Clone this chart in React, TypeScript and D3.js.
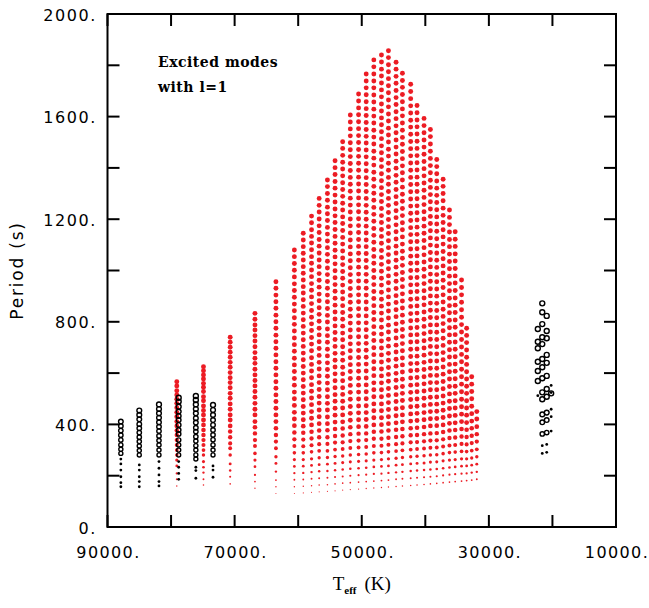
import React from "react";
import * as d3 from "d3";

const W = 649;
const H = 608;

const X_TICKS_MAJOR = [90000, 70000, 50000, 30000, 10000];
const X_TICKS_MINOR = [90000, 80000, 70000, 60000, 50000, 40000, 30000, 20000, 10000];
const Y_TICKS_MAJOR = [0, 400, 800, 1200, 1600, 2000];
const Y_TICKS_MINOR = [0, 200, 400, 600, 800, 1000, 1200, 1400, 1600, 1800, 2000];

// red (excited) sequences, sparse hot models
const redSparseTeff = [79100, 74900, 70700, 66800, 63500];
const redSparsePeriods = [
  [566, 550, 531, 515, 498, 482, 465, 447, 430, 411, 394, 376, 359, 339, 320, 300, 281, 261, 238, 209, 186, 160],
  [625, 609, 593, 577, 560, 545, 528, 508, 492, 472, 454, 437, 417, 398, 378, 359, 339, 320, 300, 281, 255, 233, 212, 186, 164],
  [740, 720, 701, 681, 662, 642, 623, 602, 582, 563, 543, 521, 502, 480, 459, 437, 417, 394, 372, 350, 326, 307, 281, 246, 220, 196, 168],
  [833, 810, 788, 768, 746, 725, 703, 680, 658, 638, 615, 593, 571, 550, 528, 506, 482, 459, 437, 411, 389, 365, 339, 316, 287, 261, 235, 203, 177, 151],
  [956, 931, 904, 878, 853, 826, 800, 775, 748, 722, 697, 671, 644, 619, 593, 566, 541, 515, 489, 463, 437, 411, 385, 359, 333, 307, 274, 248, 216, 183, 157, 131],
];

// red (excited) sequences, dense model grid
const denseTeff = [60600, 59200, 57900, 56700, 55400, 54200, 53000, 51800, 50500, 49300, 48100, 46900, 45800, 44600, 43600, 42300, 41300, 40200, 39200, 38200, 37200, 36200, 35300, 34300, 33500, 32700, 31900];
const densePeriods = [
  [131, 157, 184, 210, 236, 263, 289, 316, 342, 368, 395, 421, 447, 474, 500, 526, 553, 579, 606, 632, 658, 685, 711, 737, 764, 790, 816, 843, 869, 896, 922, 948, 975, 1001, 1027, 1054, 1080],
  [133, 159, 185, 211, 237, 263, 289, 315, 341, 367, 393, 418, 444, 470, 496, 522, 548, 574, 600, 626, 652, 678, 704, 730, 756, 782, 808, 834, 860, 886, 912, 937, 963, 989, 1015, 1041, 1067, 1093, 1119, 1145],
  [135, 161, 188, 214, 240, 266, 293, 319, 345, 371, 398, 424, 450, 477, 503, 529, 555, 582, 608, 634, 660, 687, 713, 739, 766, 792, 818, 844, 871, 897, 923, 949, 976, 1002, 1028, 1054, 1081, 1107, 1133, 1159, 1186, 1212],
  [137, 164, 190, 217, 243, 270, 297, 323, 350, 376, 403, 430, 456, 483, 509, 536, 563, 589, 616, 642, 669, 696, 722, 749, 775, 802, 829, 855, 882, 908, 935, 962, 988, 1015, 1041, 1068, 1095, 1121, 1148, 1174, 1201, 1228, 1254, 1281],
  [139, 165, 192, 218, 245, 271, 297, 324, 350, 377, 403, 429, 456, 482, 508, 535, 561, 588, 614, 640, 667, 693, 720, 746, 772, 799, 825, 852, 878, 904, 931, 957, 984, 1010, 1036, 1063, 1089, 1115, 1142, 1168, 1195, 1221, 1247, 1274, 1300, 1327, 1353],
  [141, 168, 195, 221, 248, 275, 302, 329, 355, 382, 409, 436, 463, 490, 516, 543, 570, 597, 624, 650, 677, 704, 731, 758, 784, 811, 838, 865, 892, 919, 945, 972, 999, 1026, 1053, 1079, 1106, 1133, 1160, 1187, 1213, 1240, 1267, 1294, 1321, 1347, 1374, 1401, 1428],
  [144, 171, 197, 224, 251, 277, 304, 330, 357, 384, 410, 437, 464, 490, 517, 543, 570, 597, 623, 650, 677, 703, 730, 756, 783, 810, 836, 863, 890, 916, 943, 970, 996, 1023, 1049, 1076, 1103, 1129, 1156, 1183, 1209, 1236, 1262, 1289, 1316, 1342, 1369, 1396, 1422, 1449, 1476, 1502],
  [146, 173, 200, 227, 254, 281, 308, 335, 362, 389, 416, 443, 470, 498, 525, 552, 579, 606, 633, 660, 687, 714, 741, 768, 795, 822, 849, 876, 903, 930, 957, 984, 1011, 1038, 1065, 1092, 1119, 1146, 1174, 1201, 1228, 1255, 1282, 1309, 1336, 1363, 1390, 1417, 1444, 1471, 1498, 1525, 1552, 1579, 1606],
  [148, 175, 202, 229, 256, 283, 310, 337, 364, 391, 418, 445, 472, 499, 526, 553, 580, 607, 634, 661, 688, 715, 742, 769, 796, 824, 851, 878, 905, 932, 959, 986, 1013, 1040, 1067, 1094, 1121, 1148, 1175, 1202, 1229, 1256, 1283, 1310, 1337, 1364, 1391, 1418, 1445, 1472, 1499, 1526, 1553, 1580, 1607, 1634, 1661, 1688],
  [150, 177, 204, 231, 258, 285, 312, 339, 365, 392, 419, 446, 473, 500, 527, 554, 581, 608, 635, 662, 689, 716, 742, 769, 796, 823, 850, 877, 904, 931, 958, 985, 1012, 1039, 1066, 1093, 1119, 1146, 1173, 1200, 1227, 1254, 1281, 1308, 1335, 1362, 1389, 1416, 1443, 1470, 1497, 1523, 1550, 1577, 1604, 1631, 1658, 1685, 1712, 1739, 1766],
  [152, 179, 207, 234, 261, 289, 316, 344, 371, 398, 426, 453, 480, 508, 535, 562, 590, 617, 644, 672, 699, 727, 754, 781, 809, 836, 863, 891, 918, 945, 973, 1000, 1028, 1055, 1082, 1110, 1137, 1164, 1192, 1219, 1246, 1274, 1301, 1328, 1356, 1383, 1411, 1438, 1465, 1493, 1520, 1547, 1575, 1602, 1629, 1657, 1684, 1712, 1739, 1766, 1794, 1821],
  [154, 181, 208, 236, 263, 290, 317, 344, 372, 399, 426, 453, 480, 508, 535, 562, 589, 616, 643, 671, 698, 725, 752, 779, 807, 834, 861, 888, 915, 943, 970, 997, 1024, 1051, 1078, 1106, 1133, 1160, 1187, 1214, 1242, 1269, 1296, 1323, 1350, 1377, 1405, 1432, 1459, 1486, 1514, 1541, 1568, 1595, 1622, 1649, 1677, 1704, 1731, 1758, 1785, 1813, 1840],
  [156, 183, 211, 238, 266, 293, 321, 348, 376, 403, 430, 458, 485, 513, 540, 568, 595, 622, 650, 677, 705, 732, 760, 787, 815, 842, 869, 897, 924, 952, 979, 1007, 1034, 1062, 1089, 1116, 1144, 1171, 1199, 1226, 1254, 1281, 1308, 1336, 1363, 1391, 1418, 1446, 1473, 1501, 1528, 1555, 1583, 1610, 1638, 1665, 1693, 1720, 1748, 1775, 1802, 1830, 1857],
  [158, 186, 213, 241, 268, 296, 323, 351, 379, 406, 434, 461, 489, 516, 544, 572, 599, 627, 654, 682, 709, 737, 765, 792, 820, 847, 875, 902, 930, 958, 985, 1013, 1040, 1068, 1095, 1123, 1151, 1178, 1206, 1233, 1261, 1288, 1316, 1344, 1371, 1399, 1426, 1454, 1481, 1509, 1537, 1564, 1592, 1619, 1647, 1674, 1702, 1730, 1757, 1785, 1812],
  [160, 188, 215, 243, 271, 299, 326, 354, 382, 410, 437, 465, 493, 521, 548, 576, 604, 632, 659, 687, 715, 743, 770, 798, 826, 854, 881, 909, 937, 965, 992, 1020, 1048, 1075, 1103, 1131, 1159, 1186, 1214, 1242, 1270, 1297, 1325, 1353, 1381, 1408, 1436, 1464, 1492, 1519, 1547, 1575, 1603, 1630, 1658, 1686, 1714, 1741, 1769],
  [162, 190, 218, 246, 274, 302, 330, 358, 385, 413, 441, 469, 497, 525, 553, 581, 609, 637, 665, 693, 721, 749, 776, 804, 832, 860, 888, 916, 944, 972, 1000, 1028, 1056, 1084, 1112, 1140, 1167, 1195, 1223, 1251, 1279, 1307, 1335, 1363, 1391, 1419, 1447, 1475, 1503, 1531, 1559, 1586, 1614, 1642, 1670, 1698, 1726],
  [164, 192, 220, 248, 276, 304, 331, 359, 387, 415, 443, 471, 499, 527, 555, 583, 611, 638, 666, 694, 722, 750, 778, 806, 834, 862, 890, 918, 945, 973, 1001, 1029, 1057, 1085, 1113, 1141, 1169, 1197, 1225, 1252, 1280, 1308, 1336, 1364, 1392, 1420, 1448, 1476, 1504, 1532, 1560, 1587, 1615, 1643],
  [166, 194, 222, 250, 278, 306, 334, 362, 390, 418, 446, 474, 502, 530, 558, 586, 614, 642, 670, 698, 726, 754, 782, 810, 838, 866, 893, 921, 949, 977, 1005, 1033, 1061, 1089, 1117, 1145, 1173, 1201, 1229, 1257, 1285, 1313, 1341, 1369, 1397, 1425, 1453, 1481, 1509, 1537, 1565, 1593],
  [168, 196, 224, 253, 281, 309, 337, 365, 394, 422, 450, 478, 506, 535, 563, 591, 619, 647, 676, 704, 732, 760, 788, 817, 845, 873, 901, 929, 958, 986, 1014, 1042, 1070, 1099, 1127, 1155, 1183, 1211, 1240, 1268, 1296, 1324, 1352, 1381, 1409, 1437, 1465, 1493, 1522, 1550],
  [170, 198, 226, 254, 282, 310, 338, 366, 395, 423, 451, 479, 507, 535, 563, 591, 619, 647, 675, 703, 731, 759, 788, 816, 844, 872, 900, 928, 956, 984, 1012, 1040, 1068, 1096, 1124, 1153, 1181, 1209, 1237, 1265, 1293, 1321, 1349, 1377, 1405, 1433],
  [173, 201, 229, 258, 286, 314, 342, 370, 398, 427, 455, 483, 511, 539, 567, 596, 624, 652, 680, 708, 736, 765, 793, 821, 849, 877, 905, 934, 962, 990, 1018, 1046, 1074, 1103, 1131, 1159, 1187, 1215, 1243, 1272, 1300, 1328, 1356],
  [175, 204, 232, 261, 290, 318, 347, 376, 404, 433, 462, 490, 519, 548, 577, 605, 634, 663, 691, 720, 749, 777, 806, 835, 863, 892, 921, 949, 978, 1007, 1035, 1064, 1093, 1121, 1150, 1179, 1207, 1236],
  [177, 206, 234, 263, 292, 320, 349, 378, 406, 435, 464, 492, 521, 549, 578, 607, 635, 664, 693, 721, 750, 779, 807, 836, 865, 893, 922, 951, 979, 1008, 1037, 1065, 1094, 1122, 1151],
  [179, 208, 237, 266, 295, 324, 353, 382, 411, 440, 469, 498, 527, 557, 586, 615, 644, 673, 702, 731, 760, 789, 818, 847, 876, 905, 934, 963],
  [181, 209, 238, 266, 294, 322, 351, 379, 407, 436, 464, 492, 521, 549, 577, 605, 634, 662, 690, 719, 747, 775],
  [183, 212, 241, 269, 298, 327, 356, 385, 413, 442, 471, 500, 528, 557, 586],
  [186, 215, 245, 274, 303, 333, 362, 391, 421, 450],
];

// black (other model sequence): open circles and small dots
const blackTeff = [87900, 85000, 81900, 78800, 76100, 73400, 22300, 21600, 20900, 20200];
const blackOpen = [
  [411, 394, 376, 358, 339, 320, 303, 287],
  [454, 437, 420, 401, 385, 368, 350, 333, 316, 298, 281],
  [478, 460, 443, 426, 408, 391, 374, 355, 337, 320, 300, 281],
  [504, 489, 469, 450, 433, 417, 398, 378, 363, 339, 320, 300, 281],
  [511, 495, 478, 460, 443, 424, 407, 387, 372, 352, 335, 317, 300, 281, 265],
  [476, 456, 437, 417, 398, 378, 359, 340, 320, 300, 281],
  [772, 722, 697, 644, 608, 569],
  [872, 837, 791, 740, 713, 655, 623, 580, 525, 498, 439, 408, 363],
  [823, 764, 736, 671, 640, 589, 538, 508, 446, 417, 368],
  [521],
];
const blackDots = [
  [265, 246, 222, 196, 173, 157],
  [242, 222, 196, 177, 157],
  [255, 229, 203, 177, 160],
  [255, 233, 209, 186],
  [233, 220, 190],
  [238, 222, 194],
  [512],
  [317, 287],
  [322, 291],
  [552, 524, 459, 430, 374],
];

const LEFT = 107.5;
const RIGHT = 616;
const TOP = 14;
const BOTTOM = 527;

export default function App() {
  const x = d3.scaleLinear().domain([90000, 10000]).range([LEFT, RIGHT]);
  const y = d3.scaleLinear().domain([0, 2000]).range([BOTTOM, TOP]);
  const rRed = d3.scaleLinear().domain([130, 180, 250, 330, 420]).range([0.5, 0.9, 1.5, 2.1, 2.45]).clamp(true);
  const rOpen = d3.scaleLinear().domain([280, 500]).range([2.0, 2.5]).clamp(true);

  const red: { t: number; p: number }[] = [];
  redSparseTeff.forEach((t, i) => redSparsePeriods[i].forEach((p) => red.push({ t, p })));
  denseTeff.forEach((t, i) => densePeriods[i].forEach((p) => red.push({ t, p })));
  const opens: { t: number; p: number }[] = [];
  const dots: { t: number; p: number }[] = [];
  blackTeff.forEach((t, i) => {
    blackOpen[i].forEach((p) => opens.push({ t, p }));
    blackDots[i].forEach((p) => dots.push({ t, p }));
  });

  const tickLen = 12;
  const numFont = "'DejaVu Sans', sans-serif";

  return (
    <svg width={W} height={H} style={{ position: "absolute", left: 0, top: 0, background: "#fff" }}>
      <rect x={0} y={0} width={W} height={H} fill="#fff" />
      <g>
        {red.map((d, i) => (
          <circle key={"r" + i} cx={x(d.t)} cy={y(d.p)} r={rRed(d.p)} fill="#ec1c24" />
        ))}
        {opens.map((d, i) => (
          <circle key={"o" + i} cx={x(d.t)} cy={y(d.p)} r={rOpen(d.p)} fill="none" stroke="#000" strokeWidth={1.4} />
        ))}
        {dots.map((d, i) => (
          <circle key={"d" + i} cx={x(d.t)} cy={y(d.p)} r={1.4} fill="#000" />
        ))}
      </g>
      <g stroke="#000" strokeWidth={2} fill="none">
        <rect x={LEFT} y={TOP} width={RIGHT - LEFT} height={BOTTOM - TOP} />
        {X_TICKS_MINOR.map((t) => (
          <g key={"xt" + t}>
            <line x1={x(t)} x2={x(t)} y1={BOTTOM} y2={BOTTOM - tickLen} />
            <line x1={x(t)} x2={x(t)} y1={TOP} y2={TOP + tickLen} />
          </g>
        ))}
        {Y_TICKS_MINOR.map((t) => (
          <g key={"yt" + t}>
            <line x1={LEFT} x2={LEFT + tickLen} y1={y(t)} y2={y(t)} />
            <line x1={RIGHT} x2={RIGHT - tickLen} y1={y(t)} y2={y(t)} />
          </g>
        ))}
      </g>
      <g fontFamily={numFont} fontSize={16} fill="#000">
        {Y_TICKS_MAJOR.map((t) => (
          <text key={"yl" + t} x={97} y={y(t) + 6.5} textAnchor="end" letterSpacing={1.6}>
            {t + "."}
          </text>
        ))}
        {X_TICKS_MAJOR.map((t) => (
          <text key={"xl" + t} x={x(t) + 1} y={558} textAnchor="middle" letterSpacing={1.4}>
            {t + "."}
          </text>
        ))}
      </g>
      <text
        transform={`translate(23, ${(TOP + BOTTOM) / 2}) rotate(-90)`}
        textAnchor="middle"
        fontFamily={numFont}
        fontSize={17}
        letterSpacing={1.8}
      >
        Period (s)
      </text>
      <text x={(LEFT + RIGHT) / 2} y={590} textAnchor="middle" fontFamily="'Liberation Serif', serif" fontSize={19}>
        T<tspan fontSize={11} fontWeight="bold" dy={4}>eff</tspan>
        <tspan dy={-4} dx={8}>(K)</tspan>
      </text>
      <g fontFamily="'DejaVu Serif', serif" fontWeight="bold" fontSize={14} letterSpacing={0.5}>
        <text x={158} y={67}>Excited modes</text>
        <text x={158} y={92}>with l=1</text>
      </g>
    </svg>
  );
}
